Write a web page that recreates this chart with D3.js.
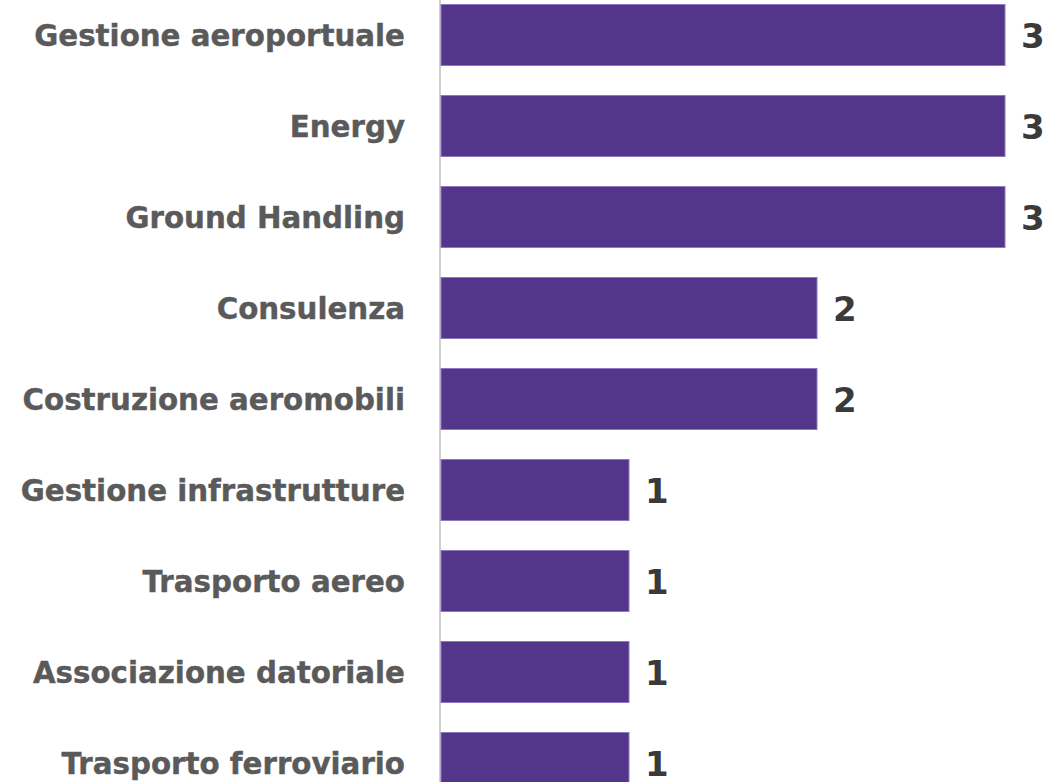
<!DOCTYPE html>
<html><head><meta charset="utf-8">
<script src="https://cdn.jsdelivr.net/npm/d3@7"></script>
<style>html,body{margin:0;padding:0;background:#fff;overflow:hidden}</style>
</head><body>
<svg id="c" width="1048" height="782"></svg>
<script>
const categories = ["Gestione aeroportuale","Energy","Ground Handling","Consulenza","Costruzione aeromobili","Gestione infrastrutture","Trasporto aereo","Associazione datoriale","Trasporto ferroviario"];
const values = [3,3,3,2,2,1,1,1,1];

const svg = d3.select("#c");
const x0 = 441;
const x = d3.scaleLinear().domain([0,3]).range([x0, 1005]);
const y = d3.scaleBand().domain(categories).range([4.5, 4.5 + 9*91 - 30]).paddingInner(30/91).paddingOuter(0);

svg.append("line").attr("x1",440).attr("x2",440).attr("y1",0).attr("y2",782)
  .attr("stroke","#d0d0d0").attr("stroke-width",2);

svg.selectAll("rect.bar").data(categories).join("rect").attr("class","bar")
  .attr("x", x(0)).attr("y", d=>y(d))
  .attr("width", (d,i)=>x(values[i])-x(0)).attr("height", y.bandwidth())
  .attr("fill","#53368c").attr("stroke","#8f77c2").attr("stroke-width",1);

svg.selectAll("text.lab").data(categories).join("text").attr("class","lab")
  .attr("x",405).attr("y",d=>y(d)+y.bandwidth()/2).attr("dy","0.36em")
  .attr("text-anchor","end").attr("font-family","DejaVu Sans, sans-serif").attr("font-weight",700)
  .attr("font-size",29.3).attr("fill","#5a5a5a").attr("stroke","#5a5a5a").attr("stroke-width",0.4)
  .text(d=>d);

svg.selectAll("text.val").data(categories).join("text").attr("class","val")
  .attr("x",(d,i)=>x(values[i])+16).attr("y",d=>y(d)+y.bandwidth()/2).attr("dy","0.37em")
  .attr("font-family","DejaVu Sans, sans-serif").attr("font-weight",700)
  .attr("font-size",34).attr("fill","#3a3a3a").text((d,i)=>values[i]);
</script>
</body></html>
